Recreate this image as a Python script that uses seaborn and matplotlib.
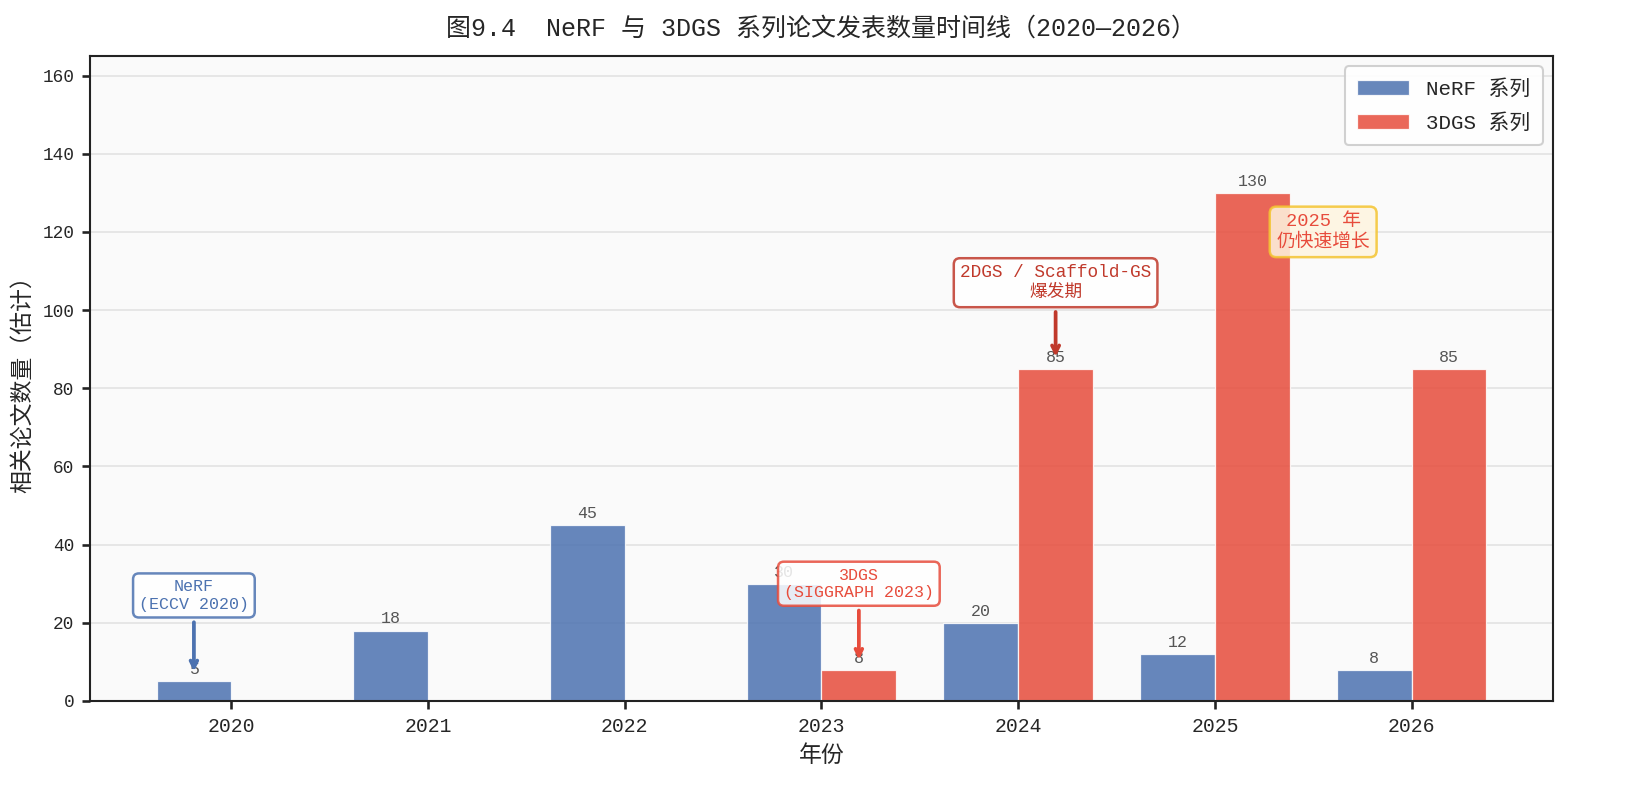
import numpy as np
import pandas as pd
import matplotlib
matplotlib.use('Agg')
import matplotlib.pyplot as plt
import seaborn as sns

# ------------------ DATA ------------------
years = ["2020", "2021", "2022", "2023", "2024", "2025", "2026"]
nerf_counts = [5, 18, 45, 30, 20, 12, 8]
gs_counts = [0, 0, 0, 8, 85, 130, 85]
series_names = ["NeRF 系列", "3DGS 系列"]
series_colors = ["#4C72B0", "#E74C3C"]

df = pd.DataFrame({
    "year": years * 2,
    "count": nerf_counts + gs_counts,
    "series": [series_names[0]] * len(years) + [series_names[1]] * len(years),
})

# ------------------ STYLE ------------------
sns.set_theme(style="ticks")
plt.rcParams['font.family'] = ['Liberation Mono', 'Noto Sans CJK SC', 'DejaVu Sans']
plt.rcParams['axes.unicode_minus'] = False

fig, ax = plt.subplots(figsize=(1634 / 150, 809 / 150), dpi=150)
fig.subplots_adjust(left=0.0551, right=0.9504, top=0.9308, bottom=0.1335)
ax.set_facecolor("#FAFAFA")

sns.barplot(
    data=df,
    x="year",
    y="count",
    hue="series",
    hue_order=series_names,
    palette=series_colors,
    saturation=1,
    width=0.76,
    alpha=0.85,
    edgecolor="white",
    linewidth=0.6,
    errorbar=None,
    ax=ax,
)

# value labels above bars (skip zeros)
for cont in ax.containers:
    labels = [f"{int(b.get_height())}" if b.get_height() > 0 else "" for b in cont]
    ax.bar_label(cont, labels=labels, padding=2, fontsize=8, color="#555555")

bw = 0.38
ax.set_xlim(-0.38 - 0.338, 6.38 + 0.338)
ax.set_ylim(0, 165)
ax.yaxis.grid(True, color="#E3E3E3", linewidth=0.8)
ax.set_axisbelow(True)
for s in ax.spines.values():
    s.set_visible(True)
    s.set_color("#222222")
    s.set_linewidth(1.0)

ax.tick_params(axis="x", labelsize=9.5, length=4, color="#222222")
ax.tick_params(axis="y", labelsize=8.5, length=4, color="#222222")

ax.set_title("图9.4  NeRF 与 3DGS 系列论文发表数量时间线（2020—2026）", fontsize=12, pad=10)
ax.set_xlabel("年份", fontsize=11)
ax.set_ylabel("相关论文数量（估计）", fontsize=11)

# ------------------ ANNOTATIONS ------------------
ax.annotate("NeRF\n(ECCV 2020)", xy=(0 - bw / 2, 6.5), xytext=(0 - bw / 2, 27),
            ha="center", va="center", fontsize=8, color="#4C72B0",
            bbox=dict(boxstyle="round,pad=0.35", fc="white", ec="#4C72B0", lw=1.2, alpha=0.85),
            arrowprops=dict(arrowstyle="->", color="#4C72B0", lw=1.8))

ax.annotate("3DGS\n(SIGGRAPH 2023)", xy=(3 + bw / 2, 9.5), xytext=(3 + bw / 2, 30),
            ha="center", va="center", fontsize=8, color="#E74C3C",
            bbox=dict(boxstyle="round,pad=0.35", fc="white", ec="#E74C3C", lw=1.2, alpha=0.85),
            arrowprops=dict(arrowstyle="->", color="#E74C3C", lw=1.8))

ax.annotate("2DGS / Scaffold-GS\n爆发期", xy=(4 + bw / 2, 87), xytext=(4 + bw / 2, 107),
            ha="center", va="center", fontsize=8.5, color="#C0392B",
            bbox=dict(boxstyle="round,pad=0.35", fc="white", ec="#C0392B", lw=1.2, alpha=0.85),
            arrowprops=dict(arrowstyle="->", color="#C0392B", lw=1.8))

ax.text(5.55, 120, "2025 年\n仍快速增长", ha="center", va="center", fontsize=9, color="#E74C3C",
        bbox=dict(boxstyle="round,pad=0.35", fc="#FEF5E0", ec="#F4C430", lw=1.2, alpha=0.85))

ax.legend(loc="upper right", fontsize=10, frameon=True, framealpha=0.9, edgecolor="#CCCCCC",
          handlelength=2.5, borderpad=0.6, labelspacing=0.7)

fig.savefig("out.png", dpi=150)
